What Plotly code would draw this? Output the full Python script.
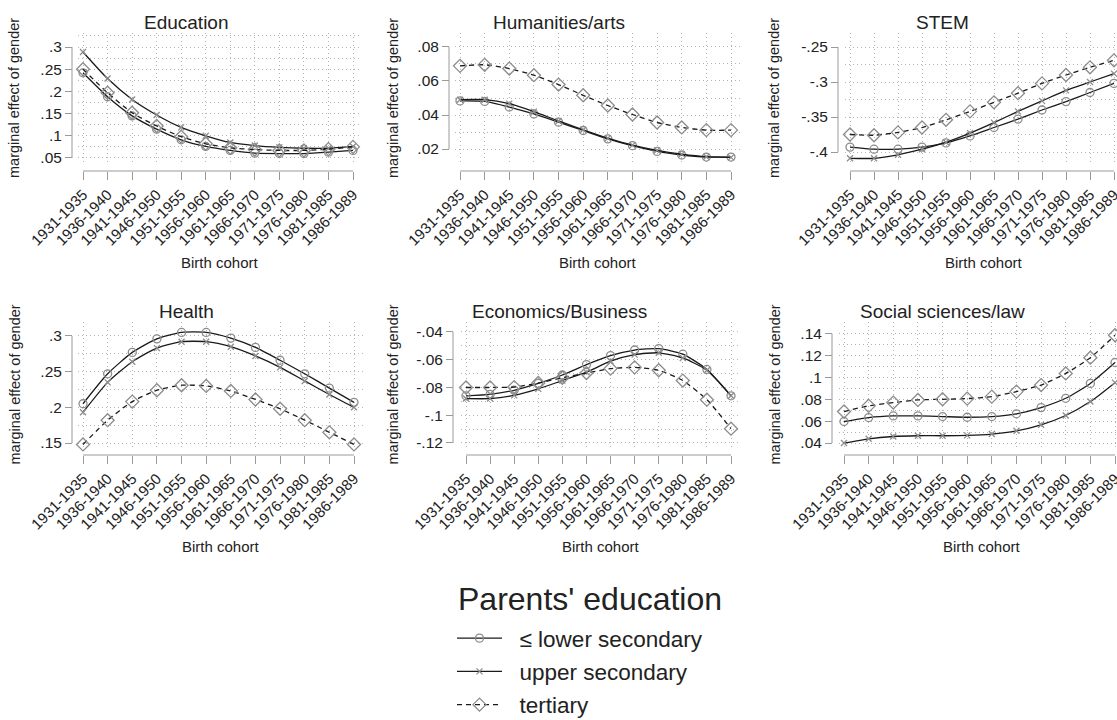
import plotly.graph_objects as go

# ---------------- data ----------------
cohorts = ["1931-1935", "1936-1940", "1941-1945", "1946-1950", "1951-1955", "1956-1960",
           "1961-1965", "1966-1970", "1971-1975", "1976-1980", "1981-1985", "1986-1989"]

series_names = ["\u2264 lower secondary", "upper secondary", "tertiary"]
legend_title = "Parents' education"
panel_titles = ["Education", "Humanities/arts", "STEM",
                "Health", "Economics/Business", "Social sciences/law"]

edu_lower = [.242, .188, .145, .115, .091, .076, .067, .061, .060, .060, .063, .067]
edu_upper = [.289, .229, .182, .147, .119, .100, .085, .078, .074, .072, .072, .076]
edu_tert = [.250, .197, .152, .122, .098, .082, .073, .069, .067, .067, .070, .075]

hum_lower = [.0483, .0480, .0447, .0406, .0358, .0309, .0260, .0220, .0186, .0165, .0153, .0153]
hum_upper = [.0490, .0490, .0467, .0420, .0365, .0313, .0264, .0223, .0192, .0170, .0155, .0151]
hum_tert = [.0689, .0695, .0673, .0634, .0579, .0516, .0456, .0403, .0356, .0327, .0311, .0311]

stem_lower = [-.393, -.396, -.396, -.393, -.387, -.377, -.365, -.353, -.340, -.328, -.315, -.302]
stem_upper = [-.409, -.409, -.404, -.396, -.386, -.373, -.358, -.342, -.327, -.312, -.300, -.288]
stem_tert = [-.375, -.376, -.372, -.365, -.354, -.342, -.329, -.316, -.302, -.290, -.279, -.269]

hea_lower = [.205, .247, .277, .296, .305, .305, .297, .284, .266, .247, .227, .207]
hea_upper = [.193, .235, .264, .283, .292, .292, .285, .272, .256, .237, .218, .200]
hea_tert = [.148, .182, .208, .224, .231, .230, .223, .211, .198, .182, .165, .148]

eco_lower = [-.086, -.085, -.082, -.077, -.071, -.0635, -.057, -.053, -.052, -.056, -.067, -.086]
eco_upper = [-.088, -.088, -.0857, -.081, -.075, -.069, -.061, -.0563, -.055, -.0587, -.0676, -.086]
eco_tert = [-.080, -.080, -.0797, -.0768, -.073, -.0696, -.0664, -.0655, -.0676, -.075, -.0888, -.1097]

soc_lower = [.0597, .0633, .0648, .0648, .0642, .0636, .0642, .0667, .0724, .0809, .0945, .1136]
soc_upper = [.0400, .0439, .0460, .0467, .0467, .0470, .0482, .0512, .0567, .0652, .0779, .0952]
soc_tert = [.0688, .0740, .0770, .0794, .0800, .0806, .0824, .0870, .0930, .1036, .1180, .1385]

panel_data = [
    (edu_lower, edu_upper, edu_tert),
    (hum_lower, hum_upper, hum_tert),
    (stem_lower, stem_upper, stem_tert),
    (hea_lower, hea_upper, hea_tert),
    (eco_lower, eco_upper, eco_tert),
    (soc_lower, soc_upper, soc_tert),
]

# y tick settings per panel: (first tick, last tick, step)
y_ticks = [(.05, .3, .05), (.02, .08, .02), (-.4, -.25, .05),
           (.15, .3, .05), (-.12, -.04, .02), (.04, .14, .02)]

# ---------------- geometry (pixels) ----------------
W, H = 1117, 720
FONT = "Liberation Sans, Arial, Helvetica, sans-serif"
GRID = "#b4b4b4"
AXC = "#9a9a9a"
TXT = "#222222"
LINEC = "#1a1a1a"
MARKC = "#8c8c8c"

geom = [
    dict(c0=83, c1=353, top=33, bot=163, yl=72, xl=171, yr=(.0387, .3317), tcx=186, ytx=14),
    dict(c0=460, c1=731, top=33, bot=163, yl=449, xl=171, yr=(.0118, .0882), tcx=559, ytx=393),
    dict(c0=850, c1=1114, top=33, bot=163, yl=838, xl=171, yr=(-.4157, -.2300), tcx=942, ytx=774),
    dict(c0=83, c1=354, top=322, bot=447, yl=72, xl=455, yr=(.1444, .3196), tcx=186, ytx=14),
    dict(c0=466, c1=731, top=322, bot=447, yl=453, xl=455, yr=(-.1229, -.0328), tcx=559, ytx=392),
    dict(c0=844, c1=1115, top=322, bot=447, yl=832, xl=455, yr=(.0364, .1506), tcx=942, ytx=774),
]


def fmt(v):
    s = f"{v:g}"
    return s.replace("0.", ".", 1)


styles = [
    dict(symbol="circle-open", size=8, dash="solid"),
    dict(symbol="x-thin-open", size=6, dash="solid"),
    dict(symbol="diamond-open", size=10, dash="5px,4px"),
]

fig = go.Figure()
layout = dict()
shapes = []
annotations = []

for i, (title, data, yt, g) in enumerate(zip(panel_titles, panel_data, y_ticks, geom)):
    n = i + 1
    xa = "x" if n == 1 else f"x{n}"
    ya = "y" if n == 1 else f"y{n}"
    xkey = "xaxis" if n == 1 else f"xaxis{n}"
    ykey = "yaxis" if n == 1 else f"yaxis{n}"

    step = (g["c1"] - g["c0"]) / (len(cohorts) - 1)
    left = g["c0"] - 5
    right = min(g["c1"] + 9, W)
    xr = [(left - g["c0"]) / step, (right - g["c0"]) / step]

    lo, hi, st = yt
    nt = int(round((hi - lo) / st))
    tickvals = [round(lo + k * st, 4) for k in range(nt + 1)]
    half = st / 2
    minor_vals = []
    k = int(g["yr"][0] / half) - 1
    while k * half <= g["yr"][1] + 1e-9:
        v = round(k * half, 4)
        if g["yr"][0] - 1e-9 <= v and all(abs(v - t) > 1e-6 for t in tickvals):
            minor_vals.append(v)
        k += 1

    for name, vals, sty in zip(series_names, data, styles):
        fig.add_trace(go.Scatter(
            x=list(range(len(cohorts))), y=vals, xaxis=xa, yaxis=ya,
            mode="lines+markers", name="\u00a0\u00a0" + name, legendgroup=name,
            showlegend=(i == 0), cliponaxis=False,
            line=dict(color=LINEC, width=1.3, dash=sty["dash"], shape="spline", smoothing=0.6),
            marker=dict(symbol=sty["symbol"], size=sty["size"], color=MARKC,
                        line=dict(color=MARKC, width=1.3)),
        ))

    layout[xkey] = dict(
        domain=[left / W, right / W], range=xr, anchor="free", position=1 - g["xl"] / H,
        tickvals=list(range(len(cohorts))), ticktext=cohorts, tickangle=-45,
        ticks="outside", ticklen=8, tickcolor=AXC, tickwidth=1,
        tickfont=dict(size=15, color=TXT, family=FONT), ticklabeloverflow="allow",
        showline=False, zeroline=False, automargin=False,
        showgrid=True, gridcolor=GRID, griddash="1px,3px", gridwidth=1,
    )
    layout[ykey] = dict(
        domain=[1 - g["bot"] / H, 1 - g["top"] / H], range=list(g["yr"]),
        anchor="free", position=g["yl"] / W,
        tickvals=tickvals, ticktext=[fmt(v) for v in tickvals],
        ticks="outside", ticklen=7, tickcolor=AXC, tickwidth=1,
        tickfont=dict(size=15.5, color=TXT, family=FONT),
        showline=False, zeroline=False, automargin=False,
        showgrid=True, gridcolor=GRID, griddash="1px,3px", gridwidth=1,
        minor=dict(tickvals=minor_vals, showgrid=True, gridcolor=GRID,
                   griddash="1px,3px", gridwidth=1),
    )

    shapes.append(dict(type="line", xref="paper", x0=g["yl"] / W, x1=g["yl"] / W,
                       yref=ya, y0=tickvals[0], y1=tickvals[-1],
                       line=dict(color=AXC, width=1)))
    shapes.append(dict(type="line", xref=xa, x0=0, x1=len(cohorts) - 1,
                       yref="paper", y0=1 - g["xl"] / H, y1=1 - g["xl"] / H,
                       line=dict(color=AXC, width=1)))

    annotations.append(dict(text=title, xref="paper", yref="paper",
                            x=g["tcx"] / W, y=1 - (g["top"] - 11) / H,
                            xanchor="center", yanchor="middle", showarrow=False,
                            font=dict(size=19, color=TXT, family=FONT)))
    annotations.append(dict(text="marginal effect of gender", xref="paper", yref="paper",
                            x=g["ytx"] / W, y=1 - ((g["top"] + g["bot"]) / 2) / H,
                            xanchor="center", yanchor="middle", textangle=-90, showarrow=False,
                            font=dict(size=14.5, color=TXT, family=FONT)))
    cx = (g["c0"] - 5 + g["c1"] + 9) / 2
    annotations.append(dict(text="Birth cohort", xref="paper", yref="paper",
                            x=cx / W, y=1 - (g["xl"] + 91) / H,
                            xanchor="center", yanchor="middle", showarrow=False,
                            font=dict(size=15, color=TXT, family=FONT)))

annotations.append(dict(text=legend_title, xref="paper", yref="paper",
                        x=456 / W, y=1 - 599 / H, xanchor="left", yanchor="middle",
                        showarrow=False, font=dict(size=32, color=TXT, family=FONT)))

fig.update_layout(**layout)
fig.update_layout(
    width=W, height=H,
    margin=dict(l=0, r=0, t=0, b=0, pad=0, autoexpand=False),
    paper_bgcolor="white", plot_bgcolor="white",
    font=dict(family=FONT, color=TXT),
    shapes=shapes, annotations=annotations,
    showlegend=True,
    legend=dict(
        x=452 / W, y=1 - 617 / H, xanchor="left", yanchor="top",
        font=dict(size=22.5, color=TXT, family=FONT),
        traceorder="grouped", tracegroupgap=1, itemwidth=45,
        bgcolor="rgba(0,0,0,0)", borderwidth=0,
    ),
)

fig.write_html(
    "out.html",
    config={"displayModeBar": False},
    post_script="document.body.style.margin='0';document.body.style.overflow='hidden';",
)
